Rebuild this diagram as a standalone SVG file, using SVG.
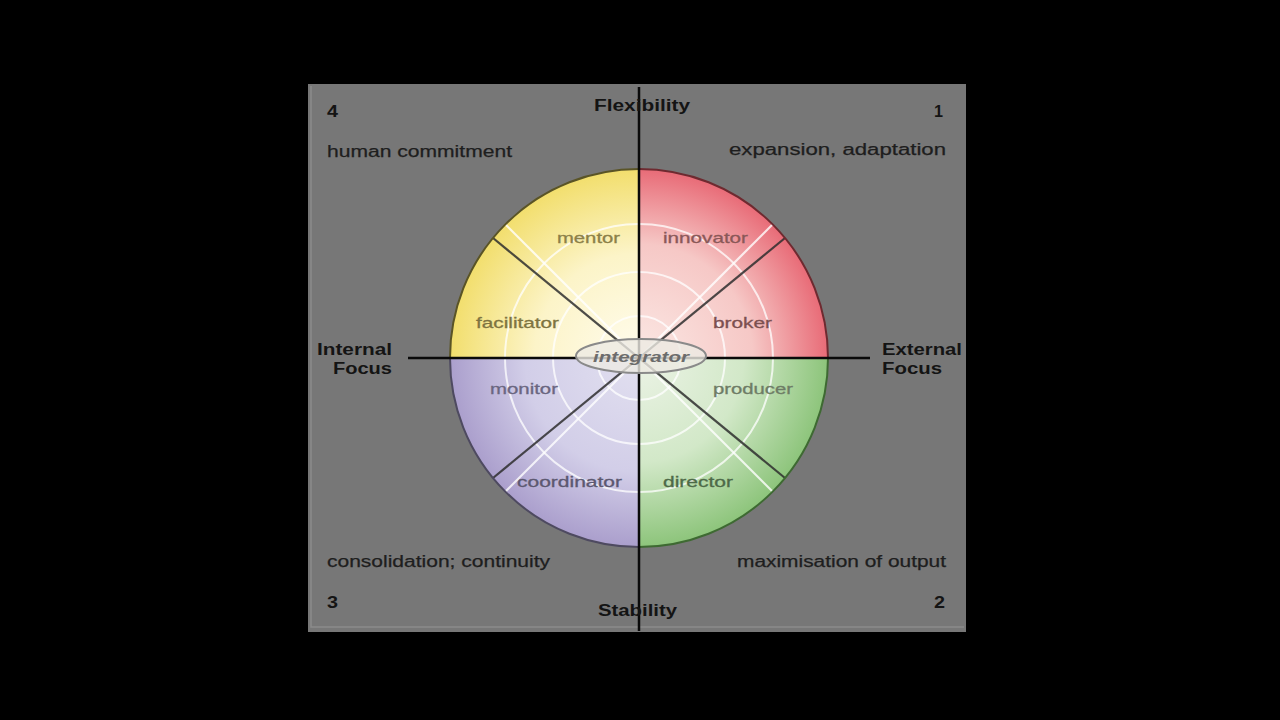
<svg xmlns="http://www.w3.org/2000/svg" width="1280" height="720" viewBox="0 0 1280 720">
  <style>
    .ax { font-family: "Liberation Sans", Arial, sans-serif; font-weight: bold; font-size: 16px; fill: #141414; }
    .num { font-family: "Liberation Sans", Arial, sans-serif; font-weight: bold; font-size: 16px; fill: #141414; }
    .desc { font-family: "Liberation Sans", Arial, sans-serif; font-size: 16px; fill: #1e1e1e; stroke: #1e1e1e; stroke-width: 0.25; }
    .role { font-family: "Liberation Sans", Arial, sans-serif; font-size: 15px; stroke-width: 0.3; }
    .ring { fill: none; stroke: #ffffff; stroke-opacity: 0.75; stroke-width: 2; }
    .wl { stroke: #ffffff; stroke-opacity: 0.8; stroke-width: 2.2; }
    .dl { stroke: #2e2e2e; stroke-opacity: 0.85; stroke-width: 2.2; }
  </style>
  <defs>
    <radialGradient id="gY" gradientUnits="userSpaceOnUse" cx="639" cy="358" r="190">
      <stop offset="0" stop-color="#fffcee"/>
      <stop offset="0.55" stop-color="#fcf4c8"/>
      <stop offset="1" stop-color="#f2de6c"/>
    </radialGradient>
    <radialGradient id="gR" gradientUnits="userSpaceOnUse" cx="639" cy="358" r="190">
      <stop offset="0" stop-color="#fbe8e4"/>
      <stop offset="0.6" stop-color="#f6c8c6"/>
      <stop offset="1" stop-color="#e86a76"/>
    </radialGradient>
    <radialGradient id="gP" gradientUnits="userSpaceOnUse" cx="639" cy="358" r="190">
      <stop offset="0" stop-color="#e2e0f0"/>
      <stop offset="0.6" stop-color="#d2cee8"/>
      <stop offset="1" stop-color="#aa9ecc"/>
    </radialGradient>
    <radialGradient id="gG" gradientUnits="userSpaceOnUse" cx="639" cy="358" r="190">
      <stop offset="0" stop-color="#ecf3e6"/>
      <stop offset="0.55" stop-color="#d2e8c8"/>
      <stop offset="1" stop-color="#8cc47a"/>
    </radialGradient>
    <clipPath id="circ">
      <circle cx="639" cy="358" r="189"/>
    </clipPath>
  </defs>

  <rect x="0" y="0" width="1280" height="720" fill="#000000"/>

  <g id="panel">
    <rect x="308" y="84" width="658" height="548" fill="#777777"/>
    <path d="M311,86 V627 H964" fill="none" stroke="#8c8c8c" stroke-width="1.5"/>
  </g>

  <g id="wheel">
    <g clip-path="url(#circ)">
      <rect id="q-flex-internal" x="449" y="168" width="190" height="190" fill="url(#gY)"/>
      <rect id="q-flex-external" x="639" y="168" width="190" height="190" fill="url(#gR)"/>
      <rect id="q-stab-internal" x="449" y="358" width="190" height="190" fill="url(#gP)"/>
      <rect id="q-stab-external" x="639" y="358" width="190" height="190" fill="url(#gG)"/>
      <circle class="ring" cx="639" cy="358" r="42"/>
      <circle class="ring" cx="639" cy="358" r="86"/>
      <circle class="ring" cx="639" cy="358" r="134"/>
      <line class="wl" x1="505" y1="224" x2="773" y2="492"/>
      <line class="wl" x1="773" y1="224" x2="505" y2="492"/>
      <line class="dl" x1="493" y1="238" x2="785" y2="478"/>
      <line class="dl" x1="785" y1="238" x2="493" y2="478"/>
    </g>
    <path d="M450,358 A189,189 0 0 1 639,169" fill="none" stroke="#5a5426" stroke-width="2"/>
    <path d="M639,169 A189,189 0 0 1 828,358" fill="none" stroke="#6e2a30" stroke-width="2"/>
    <path d="M828,358 A189,189 0 0 1 639,547" fill="none" stroke="#3e6a32" stroke-width="2"/>
    <path d="M639,547 A189,189 0 0 1 450,358" fill="none" stroke="#4e4a60" stroke-width="2"/>
  </g>

  <g id="connectors">
    <line id="axis-vertical" x1="639" y1="87" x2="639" y2="631" stroke="#0a0a0a" stroke-width="2.5"/>
    <line id="axis-horizontal" x1="408" y1="358" x2="870" y2="358" stroke="#0a0a0a" stroke-width="2.5"/>
  </g>

  <g id="integrator">
    <ellipse cx="641" cy="356" rx="65" ry="17" fill="#eceae2" fill-opacity="0.8" stroke="#8a8a8a" stroke-width="2"/>
    <text x="593" y="362" textLength="96" lengthAdjust="spacingAndGlyphs" font-family="Liberation Sans, Arial, sans-serif" font-size="15" font-weight="bold" font-style="italic" fill="#6c6c6c">integrator</text>
  </g>

  <g id="role-mentor"><text class="role" x="557" y="243" textLength="63" lengthAdjust="spacingAndGlyphs" fill="#8c8048" stroke="#8c8048">mentor</text></g>
  <g id="role-innovator"><text class="role" x="663" y="243" textLength="85" lengthAdjust="spacingAndGlyphs" fill="#8a5858" stroke="#8a5858">innovator</text></g>
  <g id="role-facilitator"><text class="role" x="476" y="328" textLength="83" lengthAdjust="spacingAndGlyphs" fill="#7e7440" stroke="#7e7440">facilitator</text></g>
  <g id="role-broker"><text class="role" x="713" y="328" textLength="59" lengthAdjust="spacingAndGlyphs" fill="#7c5050" stroke="#7c5050">broker</text></g>
  <g id="role-monitor"><text class="role" x="490" y="394" textLength="68" lengthAdjust="spacingAndGlyphs" fill="#6a6680" stroke="#6a6680">monitor</text></g>
  <g id="role-producer"><text class="role" x="713" y="394" textLength="80" lengthAdjust="spacingAndGlyphs" fill="#6e7c66" stroke="#6e7c66">producer</text></g>
  <g id="role-coordinator"><text class="role" x="517" y="487" textLength="105" lengthAdjust="spacingAndGlyphs" fill="#5c5870" stroke="#5c5870">coordinator</text></g>
  <g id="role-director"><text class="role" x="663" y="487" textLength="70" lengthAdjust="spacingAndGlyphs" fill="#4e6a48" stroke="#4e6a48">director</text></g>

  <g id="label-flexibility"><text class="ax" x="594" y="111" textLength="96" lengthAdjust="spacingAndGlyphs">Flexibility</text></g>
  <g id="label-stability"><text class="ax" x="598" y="616" textLength="79" lengthAdjust="spacingAndGlyphs">Stability</text></g>
  <g id="label-internal">
    <text class="ax" x="317" y="355" textLength="75" lengthAdjust="spacingAndGlyphs">Internal</text>
    <text class="ax" x="333" y="374" textLength="59" lengthAdjust="spacingAndGlyphs">Focus</text>
  </g>
  <g id="label-external">
    <text class="ax" x="882" y="355" textLength="80" lengthAdjust="spacingAndGlyphs">External</text>
    <text class="ax" x="882" y="374" textLength="60" lengthAdjust="spacingAndGlyphs">Focus</text>
  </g>

  <g id="quadrant-4">
    <text class="num" x="327" y="117" textLength="11" lengthAdjust="spacingAndGlyphs">4</text>
    <text class="desc" x="327" y="157" textLength="185" lengthAdjust="spacingAndGlyphs">human commitment</text>
  </g>
  <g id="quadrant-1">
    <text class="num" x="934" y="117" textLength="9" lengthAdjust="spacingAndGlyphs">1</text>
    <text class="desc" x="729" y="155" textLength="217" lengthAdjust="spacingAndGlyphs">expansion, adaptation</text>
  </g>
  <g id="quadrant-3">
    <text class="desc" x="327" y="567" textLength="223" lengthAdjust="spacingAndGlyphs">consolidation; continuity</text>
    <text class="num" x="327" y="608" textLength="11" lengthAdjust="spacingAndGlyphs">3</text>
  </g>
  <g id="quadrant-2">
    <text class="desc" x="737" y="567" textLength="209" lengthAdjust="spacingAndGlyphs">maximisation of output</text>
    <text class="num" x="934" y="608" textLength="11" lengthAdjust="spacingAndGlyphs">2</text>
  </g>
</svg>
